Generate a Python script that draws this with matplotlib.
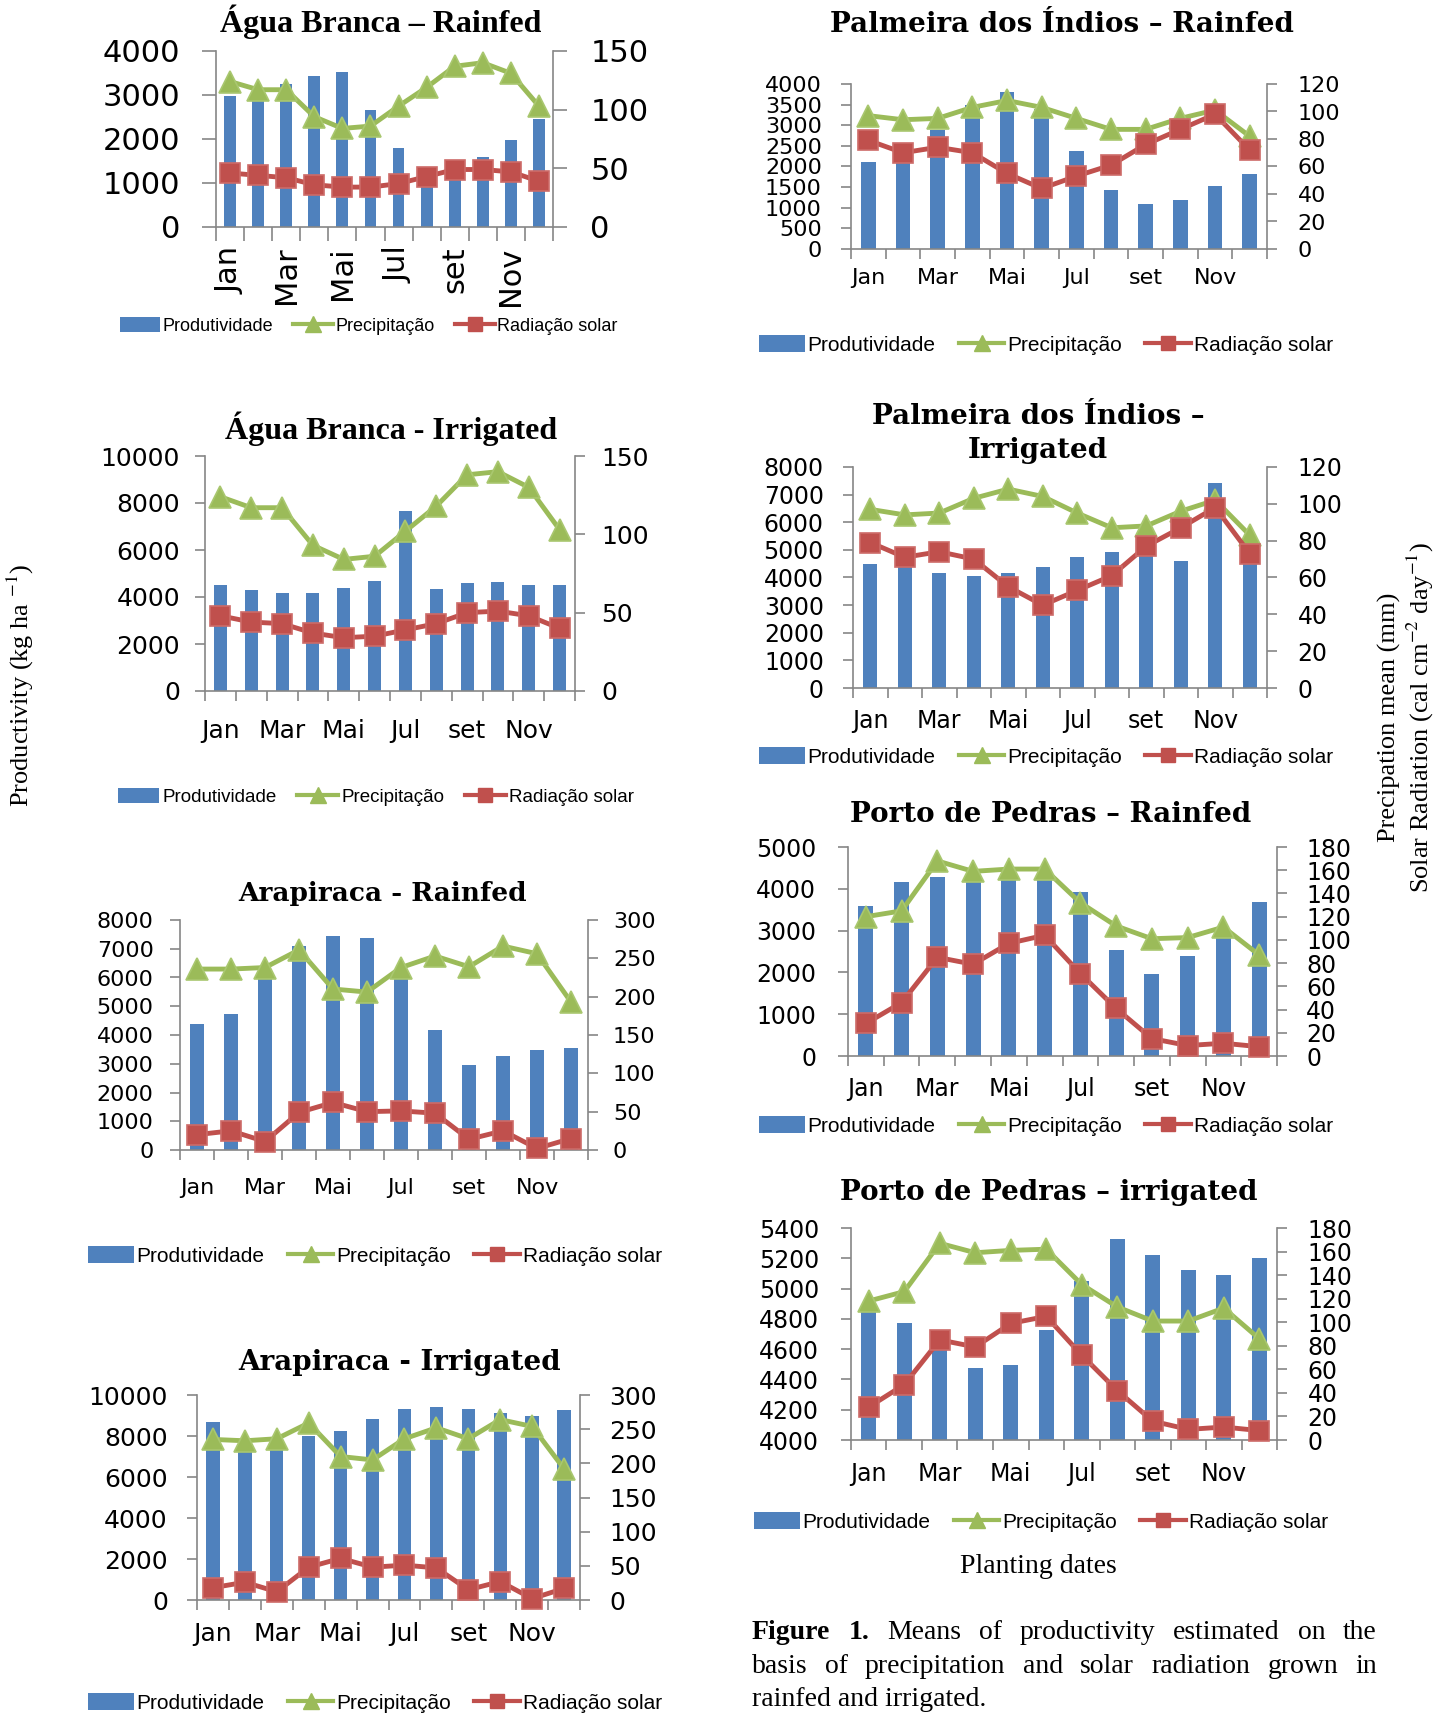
import matplotlib
matplotlib.use('Agg')
import matplotlib.pyplot as plt
from matplotlib.patches import Patch
from matplotlib.lines import Line2D

W, H, DPI = 1448, 1717, 100

months = ['Jan', 'Fev', 'Mar', 'Abr', 'Mai', 'Jun', 'Jul', 'Ago', 'set', 'Out', 'Nov', 'Dez']
tick_labels = ['Jan', '', 'Mar', '', 'Mai', '', 'Jul', '', 'set', '', 'Nov', '']
series_names = ['Produtividade', 'Precipitação', 'Radiação solar']

# Água Branca - Rainfed
ab_rain_prod = [2970, 3100, 3260, 3440, 3520, 2670, 1790, 1150, 1350, 1585, 1980, 2450]
ab_rain_prec = [124, 117, 117, 94, 84, 86, 103, 119, 137, 140, 131, 103]
ab_rain_rad = [46, 44, 42, 36, 34, 34, 37, 43, 49, 49, 47, 39]

# Palmeira dos Índios - Rainfed
pi_rain_prod = [2110, 2300, 2895, 3500, 3795, 3400, 2375, 1430, 1100, 1195, 1525, 1815]
pi_rain_prec = [97, 94, 95, 103, 108, 103, 95, 87, 87, 95, 101, 82]
pi_rain_rad = [79, 70, 74, 70, 55, 44, 53, 61, 76, 87, 98, 72]

# Água Branca - Irrigated
ab_irr_prod = [4530, 4290, 4180, 4180, 4400, 4700, 7650, 4350, 4575, 4645, 4530, 4530]
ab_irr_prec = [124, 117, 117, 93, 84, 86, 102, 118, 138, 140, 130, 103]
ab_irr_rad = [48, 44, 43, 37, 34, 35, 39, 43, 50, 51, 48, 40]

# Palmeira dos Índios - Irrigated
pi_irr_prod = [4500, 4700, 4150, 4055, 4150, 4370, 4730, 4915, 5100, 4600, 7420, 4700]
pi_irr_prec = [97, 94, 95, 103, 108, 104, 95, 87, 88, 96, 102, 83]
pi_irr_rad = [79, 71, 74, 70, 55, 45, 53, 61, 77, 87, 98, 73]

# Arapiraca - Rainfed
ar_rain_prod = [4370, 4730, 6200, 7100, 7455, 7360, 6200, 4175, 2960, 3280, 3470, 3560]
ar_rain_prec = [236, 236, 238, 261, 210, 206, 238, 253, 239, 266, 256, 193]
ar_rain_rad = [20, 25, 11, 49, 62, 50, 51, 48, 14, 25, 2, 15]

# Porto de Pedras - Rainfed
pp_rain_prod = [3590, 4165, 4280, 4300, 4350, 4350, 3925, 2545, 1960, 2385, 2845, 3685]
pp_rain_prec = [120, 125, 168, 159, 161, 161, 132, 112, 101, 102, 111, 87]
pp_rain_rad = [28, 46, 85, 79, 97, 104, 71, 41, 15, 9, 11, 8]

# Arapiraca - Irrigated
ar_irr_prod = [8700, 7800, 7800, 8000, 8245, 8815, 9330, 9400, 9330, 9100, 8975, 9270]
ar_irr_prec = [235, 233, 236, 259, 210, 205, 236, 252, 236, 264, 254, 192]
ar_irr_rad = [18, 26, 12, 48, 61, 48, 51, 47, 15, 27, 2, 17]

# Porto de Pedras - irrigated
pp_irr_prod = [4880, 4772, 4650, 4474, 4492, 4728, 5050, 5327, 5224, 5124, 5091, 5202]
pp_irr_prec = [118, 126, 167, 159, 161, 162, 132, 113, 101, 101, 112, 86]
pp_irr_rad = [28, 47, 85, 79, 99, 105, 72, 42, 16, 9, 11, 8]

TICK_FONT = 'DejaVu Sans'
LEG_FONT = 'Liberation Sans'

BLUE = '#4F81BD'
GREEN = '#9BBB59'
RED = '#C0504D'
GRAY = '#868686'

plt.rcParams['mathtext.fontset'] = 'stix'
fig = plt.figure(figsize=(W / DPI, H / DPI), dpi=DPI)


def fx(px):
    return px / W


def fy(py):
    return 1 - py / H


panels = [
    dict(title=['Água Branca – Rainfed'], tfont='Liberation Serif', tsize=23, tx=381, ty=[22],
         box=(216, 51, 553, 227), prod=ab_rain_prod, prec=ab_rain_prec, rad=ab_rain_rad,
         yl=(0, 4000, 1000), yr=(0, 150, 50), fs=22, rot=90, tl=10,
         lpad=16, rpad=17, xpad=14, leg=(369, 326), lfs=13),
    dict(title=['Palmeira dos Índios – Rainfed'], tfont='DejaVu Serif', tsize=20, tx=1062, ty=[25],
         box=(851, 84, 1267, 249), prod=pi_rain_prod, prec=pi_rain_prec, rad=pi_rain_rad,
         yl=(0, 4000, 500), yr=(0, 120, 20), fs=16, rot=0, tl=7,
         lpad=14, rpad=15, xpad=14, leg=(1046, 345), lfs=15),
    dict(title=['Água Branca - Irrigated'], tfont='Liberation Serif', tsize=23, tx=391, ty=[429],
         box=(205, 456, 575, 691), prod=ab_irr_prod, prec=ab_irr_prec, rad=ab_irr_rad,
         yl=(0, 10000, 2000), yr=(0, 150, 50), fs=18, rot=0, tl=7,
         lpad=11, rpad=12, xpad=20, leg=(376, 797), lfs=13.5),
    dict(title=['Palmeira dos Índios –', 'Irrigated'], tfont='DejaVu Serif', tsize=20, tx=1038,
         ty=[417, 451],
         box=(853, 467, 1267, 688), prod=pi_irr_prod, prec=pi_irr_prec, rad=pi_irr_rad,
         yl=(0, 8000, 1000), yr=(0, 120, 20), fs=17, rot=0, tl=7,
         lpad=14, rpad=15, xpad=15, leg=(1046, 757), lfs=15),
    dict(title=['Arapiraca - Rainfed'], tfont='DejaVu Serif', tsize=19, tx=383, ty=[893],
         box=(180, 920, 588, 1150), prod=ar_rain_prod, prec=ar_rain_prec, rad=ar_rain_rad,
         yl=(0, 8000, 1000), yr=(0, 300, 50), fs=16, rot=0, tl=7,
         lpad=12, rpad=11, xpad=20, leg=(375, 1256), lfs=15),
    dict(title=['Porto de Pedras – Rainfed'], tfont='DejaVu Serif', tsize=20, tx=1051, ty=[815],
         box=(848, 847, 1277, 1056), prod=pp_rain_prod, prec=pp_rain_prec, rad=pp_rain_rad,
         yl=(0, 5000, 1000), yr=(0, 180, 20), fs=17, rot=0, tl=7,
         lpad=16, rpad=14, xpad=15, leg=(1046, 1126), lfs=15),
    dict(title=['Arapiraca - Irrigated'], tfont='DejaVu Serif', tsize=20, tx=400, ty=[1362],
         box=(197, 1395, 580, 1600), prod=ar_irr_prod, prec=ar_irr_prec, rad=ar_irr_rad,
         yl=(0, 10000, 2000), yr=(0, 300, 50), fs=18, rot=0, tl=7,
         lpad=14, rpad=14, xpad=16, leg=(375, 1703), lfs=15),
    dict(title=['Porto de Pedras – irrigated'], tfont='DejaVu Serif', tsize=20, tx=1049, ty=[1193],
         box=(851, 1228, 1277, 1440), prod=pp_irr_prod, prec=pp_irr_prec, rad=pp_irr_rad,
         yl=(4000, 5400, 200), yr=(0, 180, 20), fs=17, rot=0, tl=7,
         lpad=16, rpad=15, xpad=16, leg=(1041, 1522), lfs=15),
]

x = list(range(len(months)))

for p in panels:
    x0, y0, x1, y1 = p['box']
    ax = fig.add_axes([fx(x0), fy(y1), fx(x1 - x0), (y1 - y0) / H])
    ax.bar(x, p['prod'], width=0.42, color=BLUE, zorder=2)
    lo, hi, st = p['yl']
    ax.set_ylim(lo, hi)
    ax.set_yticks(list(range(lo, hi + 1, st)))
    ax.set_xlim(-0.5, 11.5)
    ax.set_xticks(x)
    ax.set_xticklabels(tick_labels, rotation=p['rot'], fontsize=p['fs'], family=TICK_FONT)
    ax.set_xticks([i - 0.5 for i in range(13)], minor=True)
    ax.tick_params(axis='x', which='major', length=0, pad=p['xpad'])
    ax.tick_params(axis='x', which='minor', length=p['tl'], color=GRAY, width=1.2, direction='out')
    ax.tick_params(axis='y', length=p['tl'], color=GRAY, width=1.2, labelsize=p['fs'],
                   pad=p['lpad'])
    for lab in ax.get_yticklabels():
        lab.set_family(TICK_FONT)
    for s in ['top', 'right']:
        ax.spines[s].set_visible(False)
    for s in ['left', 'bottom']:
        ax.spines[s].set_color(GRAY)
        ax.spines[s].set_linewidth(1.2)

    ax2 = ax.twinx()
    rlo, rhi, rst = p['yr']
    ax2.set_ylim(rlo, rhi)
    ax2.set_yticks(list(range(rlo, rhi + 1, rst)))
    ax2.tick_params(axis='y', length=p['tl'], color=GRAY, width=1.2, labelsize=p['fs'],
                    pad=p['rpad'])
    for lab in ax2.get_yticklabels():
        lab.set_family(TICK_FONT)
    for s in ['top', 'left', 'bottom']:
        ax2.spines[s].set_visible(False)
    ax2.spines['right'].set_color(GRAY)
    ax2.spines['right'].set_linewidth(1.2)
    ax2.plot(x, p['prec'], color=GREEN, lw=3.5, marker='^', ms=16,
             mfc=GREEN, mec='#A9C76F', mew=1.2, clip_on=False, zorder=3)
    ax2.plot(x, p['rad'], color=RED, lw=3.5, marker='s', ms=15,
             mfc=RED, mec='#CD6B68', mew=1.2, clip_on=False, zorder=4)

    for t, ty in zip(p['title'], p['ty']):
        fig.text(fx(p['tx']), fy(ty), t, ha='center', va='center', fontsize=p['tsize'],
                 fontweight='bold', family=p['tfont'])

    handles = [Patch(facecolor=BLUE, edgecolor='none'),
               Line2D([], [], color=GREEN, lw=3, marker='^', ms=11),
               Line2D([], [], color=RED, lw=3, marker='s', ms=10)]
    lx, ly = p['leg']
    fig.legend(handles, series_names, loc='center', bbox_to_anchor=(fx(lx), fy(ly)),
               ncol=3, frameon=False, prop={'family': LEG_FONT, 'size': p['lfs']},
               handlelength=2.2, handleheight=0.9, handletextpad=0.15, columnspacing=1.1,
               borderpad=0, borderaxespad=0)

# Axis titles
fig.text(fx(20), fy(685), r'Productivity (kg ha $^{-1}$)', rotation=90, ha='center', va='center',
         fontsize=19, family='Liberation Serif')
fig.text(fx(1389), fy(717), 'Precipation mean (mm)', rotation=90, ha='center', va='center',
         fontsize=19, family='Liberation Serif')
fig.text(fx(1420), fy(717), r'Solar Radiation (cal cm$^{-2}$ day$^{-1}$)', rotation=90, ha='center',
         va='center', fontsize=19, family='Liberation Serif')
fig.text(fx(1038), fy(1566), 'Planting dates', ha='center', va='center', fontsize=20,
         family='Liberation Serif')

# Caption (justified)
renderer = fig.canvas.get_renderer()
cap_lines = [
    [('Figure', True), ('1.', True), ('Means', False), ('of', False), ('productivity', False),
     ('estimated', False), ('on', False), ('the', False)],
    [('basis', False), ('of', False), ('precipitation', False), ('and', False), ('solar', False),
     ('radiation', False), ('grown', False), ('in', False)],
]
cx0, cx1 = 752, 1377
for line, ypx in zip(cap_lines, [1632, 1666]):
    texts = []
    for w, b in line:
        t = fig.text(0, fy(ypx), w, ha='left', va='center', fontsize=20,
                     family='Liberation Serif', fontweight='bold' if b else 'normal')
        texts.append(t)
    widths = [t.get_window_extent(renderer).width for t in texts]
    gap = (cx1 - cx0 - sum(widths)) / (len(texts) - 1)
    pos = cx0
    for t, wd in zip(texts, widths):
        t.set_x(fx(pos))
        pos += wd + gap
fig.text(fx(cx0), fy(1699), 'rainfed and irrigated.', ha='left', va='center', fontsize=20,
         family='Liberation Serif')

fig.savefig('out.png', dpi=DPI)
